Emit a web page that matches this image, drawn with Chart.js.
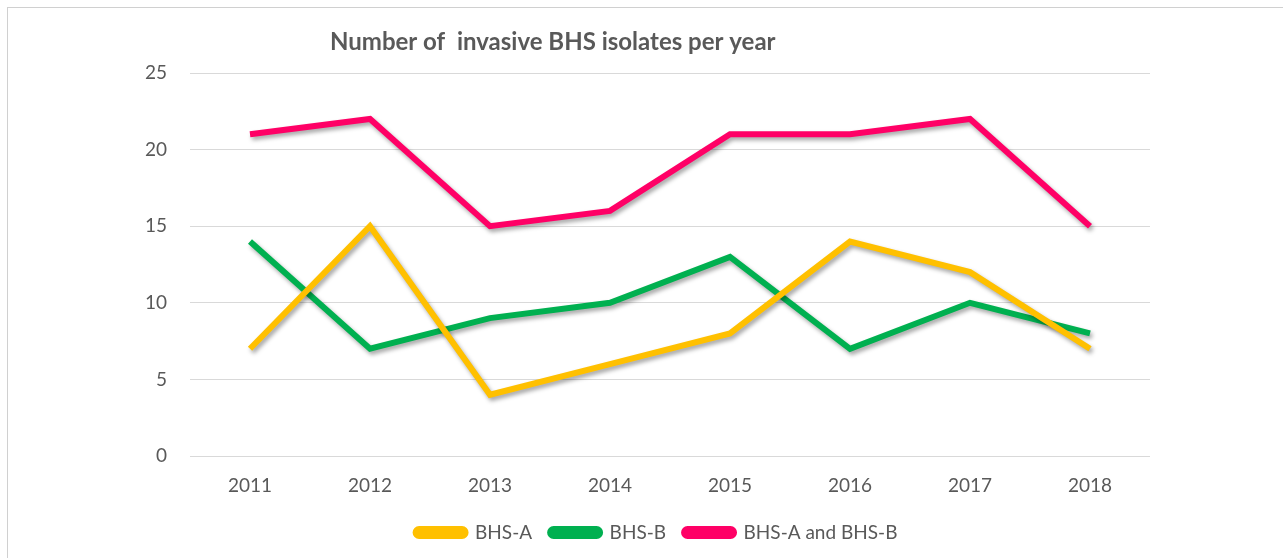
<!DOCTYPE html>
<html>
<head>
<meta charset="utf-8">
<script src="https://cdn.jsdelivr.net/npm/chart.js@4.4.1/dist/chart.umd.min.js"></script>
<style>
  html, body { margin: 0; padding: 0; background: #fff; }
  #wrap { position: absolute; left: 0; top: 0; width: 1283px; height: 558px; }
  #frame { position: absolute; left: 7px; top: 7px; width: 1290px; height: 600px; border: 1px solid #d0d0d0; box-sizing: border-box; }
  canvas { position: absolute; left: 0; top: 0; }
</style>
</head>
<body>
<div id="wrap">
  <div id="frame"></div>
  <canvas id="chart" width="1283" height="558"></canvas>
</div>
<script>
const years = ["2011", "2012", "2013", "2014", "2015", "2016", "2017", "2018"];
const bhsA = [7, 15, 4, 6, 8, 14, 12, 7];
const bhsB = [14, 7, 9, 10, 13, 7, 10, 8];
const bhsTotal = [21, 22, 15, 16, 21, 21, 22, 15];
const yTicks = [0, 5, 10, 15, 20, 25];

const chartTitle = "Number of  invasive BHS isolates per year";
const textColor = "#595959";
const fontFamily = "Lato, 'Open Sans', sans-serif";

// title sits left of center in the original, so draw it by hand
const titlePlugin = {
    id: "offsetTitle",
    afterDraw(chart) {
        const ctx = chart.ctx;
        ctx.save();
        ctx.font = "bold 24px " + fontFamily;
        ctx.fillStyle = textColor;
        ctx.textAlign = "left";
        ctx.textBaseline = "middle";
        ctx.fillText(chartTitle, 330, 42);
        ctx.restore();
    }
};

const shadowPlugin = {
    id: "lineShadow",
    beforeDatasetDraw(chart) {
        const ctx = chart.ctx;
        ctx.save();
        ctx.shadowColor = "rgba(0,0,0,0.35)";
        ctx.shadowBlur = 4;
        ctx.shadowOffsetX = 2;
        ctx.shadowOffsetY = 3;
    },
    afterDatasetDraw(chart) {
        chart.ctx.restore();
    }
};

function makeSeries(label, data, color) {
    return {
        label: label,
        data: data,
        borderColor: color,
        backgroundColor: color,
        borderWidth: 6,
        pointRadius: 0,
        pointHoverRadius: 0,
        tension: 0,
        fill: false
    };
}

const ctx = document.getElementById("chart").getContext("2d");
new Chart(ctx, {
    type: "line",
    data: {
        labels: years,
        datasets: [
            makeSeries("BHS-A", bhsA, "#FFC000"),
            makeSeries("BHS-B", bhsB, "#00B050"),
            makeSeries("BHS-A and BHS-B", bhsTotal, "#FF0066")
        ]
    },
    options: {
        responsive: false,
        animation: false,
        layout: { padding: { top: 73, left: 30, right: 0, bottom: 6 } },
        plugins: {
            title: { display: false },
            tooltip: { enabled: false },
            legend: {
                position: "bottom",
                labels: {
                    color: textColor,
                    font: { family: fontFamily, size: 19 },
                    boxWidth: 50,
                    boxHeight: 7,
                    useBorderRadius: true,
                    borderRadius: 3.5,
                    padding: 18
                }
            }
        },
        scales: {
            x: {
                offset: true,
                grid: { display: false, drawTicks: false },
                border: { display: false },
                ticks: {
                    color: textColor,
                    font: { family: fontFamily, size: 19 },
                    padding: 18
                },
                afterFit(scale) { scale.height = 49; }
            },
            y: {
                min: 0,
                max: 25,
                afterBuildTicks(scale) { scale.ticks = yTicks.map(v => ({ value: v })); },
                grid: { color: "#d9d9d9", lineWidth: 1, drawTicks: false },
                border: { display: false },
                ticks: {
                    color: textColor,
                    font: { family: fontFamily, size: 19 },
                    padding: 23
                },
                afterFit(scale) { scale.width = 160; }
            },
            // empty right-hand axis keeps the plot edge at the original spot
            yRight: {
                position: "right",
                display: true,
                grid: { display: false, drawTicks: false },
                border: { display: false },
                ticks: { display: false },
                afterFit(scale) { scale.width = 133; }
            }
        }
    },
    plugins: [titlePlugin, shadowPlugin]
});
</script>
</body>
</html>
